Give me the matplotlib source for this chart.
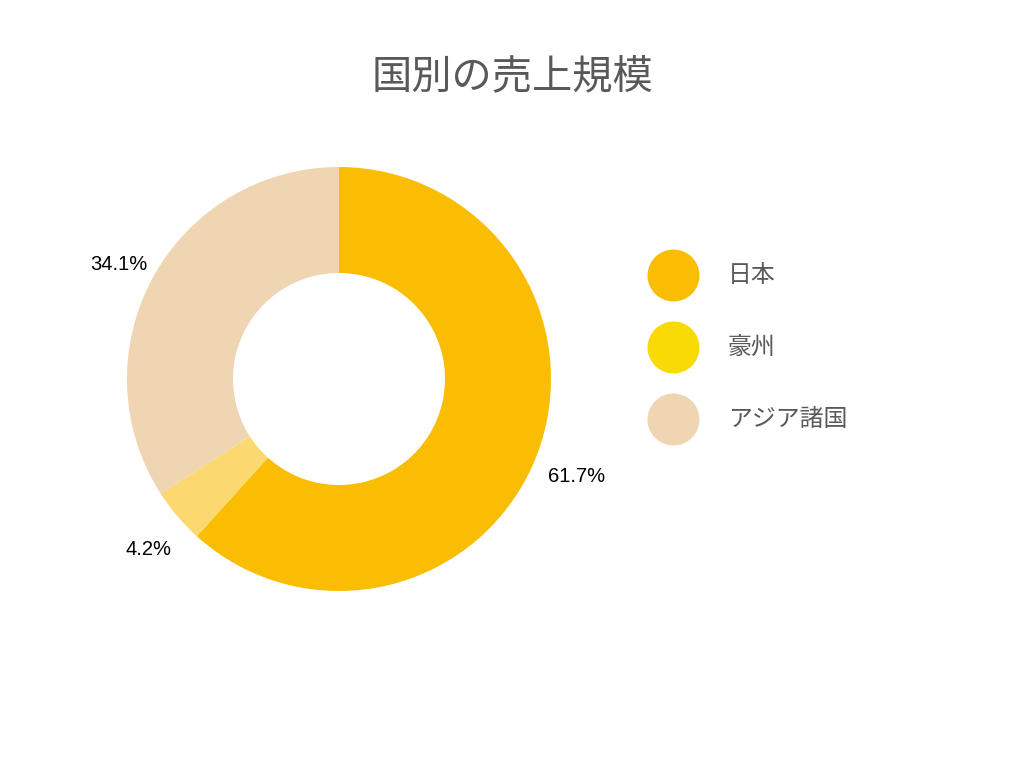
import matplotlib
matplotlib.use("Agg")
import matplotlib.pyplot as plt

plt.rcParams['font.family'] = ['Noto Sans CJK JP', 'DejaVu Sans']

title = "国別の売上規模"
categories = ["日本", "豪州", "アジア諸国"]
values = [61.7, 4.2, 34.1]
wedge_colors = ["#FABD02", "#FBD870", "#EFD5B2"]
legend_colors = ["#FABD02", "#F9DA07", "#EFD5B2"]

fig = plt.figure(figsize=(10.24, 7.68), dpi=100)
fig.patch.set_facecolor("white")

ax = fig.add_axes([127/1024, 177/768, 424/1024, 424/768])
wedges, texts, autotexts = ax.pie(
    values, colors=wedge_colors, startangle=90, counterclock=False,
    radius=1.0, wedgeprops=dict(width=0.5, linewidth=0),
    autopct="%.1f%%", pctdistance=1.19, textprops=dict(fontsize=14.5, color="black",
                                                        family=["Liberation Sans", "DejaVu Sans"]))
for t in autotexts:
    x, y = t.get_position()
    t.set_position((x + 0.008, y - 0.032))
ax.set_xlim(-1, 1)
ax.set_ylim(-1, 1)
ax.set_aspect("equal")
ax.axis("off")

fig.text(512/1024, 1 - 77/768, title, ha="center", va="center", fontsize=29, color="#595959")

lax = fig.add_axes([0, 0, 1, 1])
lax.set_xlim(0, 1024)
lax.set_ylim(768, 0)
lax.axis("off")
lax.patch.set_alpha(0)
ys = [275, 347, 419]
for y, name, c in zip(ys, categories, legend_colors):
    lax.scatter([673], [y], s=(52*0.72)**2, color=c, linewidths=0)
    lax.text(728, y, name, ha="left", va="center", fontsize=17.2, color="#595959")

fig.savefig("out.png", dpi=100, facecolor="white")
